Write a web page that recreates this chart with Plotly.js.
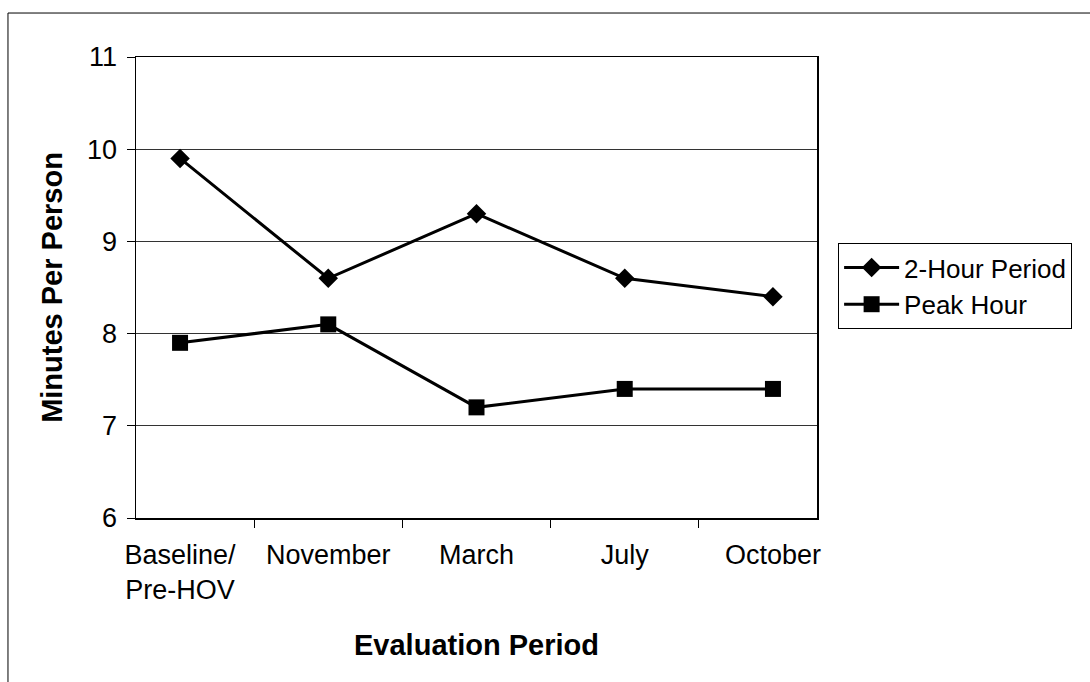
<!DOCTYPE html>
<html>
<head>
<meta charset="utf-8">
<script src="https://cdn.plot.ly/plotly-3.0.1.min.js"></script>
<style>html,body{margin:0;padding:0;background:#fff;}#chart{width:1090px;height:682px;}</style>
</head>
<body>
<div id="chart"></div>
<script>
var categories = ["Baseline/<br>Pre-HOV", "November", "March", "July", "October"];
var twoHourPeriod = [9.9, 8.6, 9.3, 8.6, 8.4];
var peakHour = [7.9, 8.1, 7.2, 7.4, 7.4];
var seriesNames = ["2-Hour Period", "Peak Hour"];
var yTicks = [6, 7, 8, 9, 10, 11];

var FONT = "Liberation Sans, Arial, sans-serif";

var traces = [
  {
    x: categories, y: twoHourPeriod, name: seriesNames[0],
    type: "scatter", mode: "lines+markers",
    line: {color: "#000", width: 3},
    marker: {symbol: "diamond", size: 15, color: "#000"}
  },
  {
    x: categories, y: peakHour, name: seriesNames[1],
    type: "scatter", mode: "lines+markers",
    line: {color: "#000", width: 3},
    marker: {symbol: "square", size: 16, color: "#000"}
  }
];

var layout = {
  width: 1090, height: 682,
  margin: {l: 136, r: 273, t: 57, b: 164},
  paper_bgcolor: "#fff", plot_bgcolor: "#fff",
  font: {family: FONT, size: 27, color: "#000"},
  showlegend: true,
  xaxis: {
    type: "category",
    tickson: "boundaries",
    ticks: "outside", ticklen: 8, tickcolor: "#000", tickwidth: 1,
    showline: true, linecolor: "#000", linewidth: 1.5,
    mirror: true, showgrid: false, zeroline: false,
    ticklabelstandoff: 12,
    tickfont: {family: FONT, size: 27, color: "#000"},
    title: {text: "Evaluation Period", font: {family: FONT, size: 29, color: "#000", weight: "bold"}, standoff: 30}
  },
  yaxis: {
    range: [6, 11], tickvals: yTicks,
    ticks: "outside", ticklen: 8, tickcolor: "#000", tickwidth: 1,
    showline: true, linecolor: "#000", linewidth: 1.5,
    mirror: true,
    showgrid: true, gridcolor: "#333", gridwidth: 1, zeroline: false,
    ticklabelstandoff: 4,
    tickfont: {family: FONT, size: 27, color: "#000"},
    title: {text: "Minutes Per Person", font: {family: FONT, size: 29, color: "#000", weight: "bold"}, standoff: 16}
  },
  legend: {
    x: 1.031, y: 0.5965, xanchor: "left", yanchor: "top",
    bgcolor: "#fff", bordercolor: "#000", borderwidth: 1,
    font: {family: FONT, size: 26, color: "#000"},
    itemwidth: 55, tracegroupgap: 0
  },
  shapes: [
    {type: "line", xref: "paper", yref: "paper", x0: -0.188, x1: 1.41, y0: 1.0954, y1: 1.0954, line: {color: "#000", width: 1}},
    {type: "line", xref: "paper", yref: "paper", x0: -0.188, x1: -0.188, y0: 1.0954, y1: -0.4, line: {color: "#000", width: 1}}
  ]
};

Plotly.newPlot("chart", traces, layout, {displayModeBar: false, staticPlot: true});
</script>
</body>
</html>
